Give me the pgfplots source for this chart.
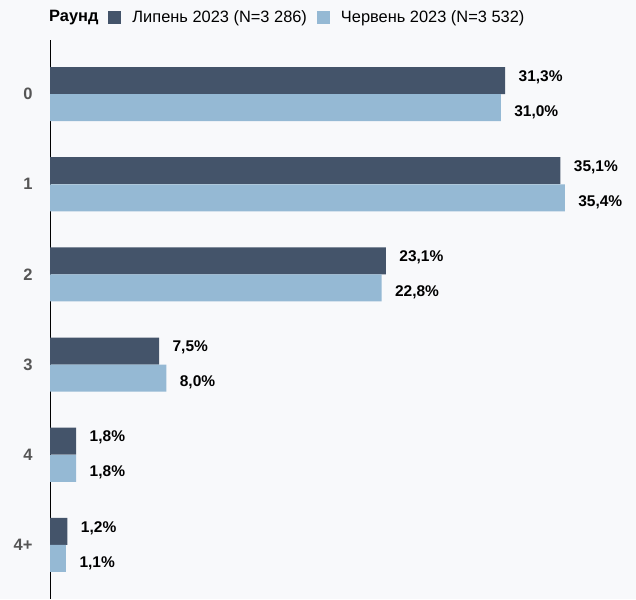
\documentclass[border=0pt]{standalone}
\usepackage{fontspec}
\setmainfont{Liberation Sans}
\usepackage{pgfplots}
\pgfplotsset{compat=1.18}
\definecolor{bg}{HTML}{F8F9FB}
\definecolor{darkbar}{HTML}{44546A}
\definecolor{lightbar}{HTML}{95B9D4}
\definecolor{tickgrey}{HTML}{555555}
\begin{document}
\begin{tikzpicture}[x=1pt,y=1pt]
\fill[bg] (0,0) rectangle (636,599);
\begin{axis}[
  at={(50pt,0pt)}, anchor=south west,
  scale only axis, width=586pt, height=559pt,
  xbar, bar width=27pt, bar shift=0pt,
  xmin=0, xmax=40.3,
  ymin=-0.6, ymax=5.6, y dir=reverse,
  hide x axis,
  axis y line*=left,
  y axis line style={black, line width=1pt},
  ytick={0,1,2,3,4,5}, yticklabels={0,1,2,3,4,4+},
  major tick length=0pt,
  yticklabel style={font=\bfseries\fontsize{16.5}{16.5}\selectfont, text=tickgrey, xshift=-14pt},
  point meta=x,
  /pgf/number format/fixed, /pgf/number format/fixed zerofill, /pgf/number format/precision=1,
  /pgf/number format/use comma, /pgf/number format/assume math mode=true,
  nodes near coords={\pgfmathprintnumber{\pgfplotspointmeta}\%},
  nodes near coords style={font=\bfseries\fontsize{15.5}{15.5}\selectfont, text=black, anchor=west, xshift=10pt},
  legend columns=-1,
  legend style={draw=none, fill=none, at={(0,1)}, anchor=south west, xshift=-15pt, yshift=12pt,
    font=\fontsize{16.4}{16.4}\selectfont,
    /tikz/every even column/.append style={column sep=8pt},
    /tikz/every odd column/.append style={column sep=9pt}},
  legend image code/.code={\fill[#1] (0pt,-6.5pt) rectangle (13pt,6.5pt);},
  clip=false,
]
\addlegendimage{empty legend}
\addlegendentry{\textbf{Раунд}}
\addplot[fill=darkbar, draw=none, nodes near coords style={yshift=3.5pt}] coordinates {
(31.3,-0.15) (35.1,0.85) (23.1,1.85) (7.5,2.85) (1.8,3.85) (1.2,4.85)};
\addlegendentry{Липень 2023 (N=3 286)}
\addplot[fill=lightbar, draw=none, nodes near coords style={yshift=-4.5pt}] coordinates {
(31.0,0.15) (35.4,1.15) (22.8,2.15) (8.0,3.15) (1.8,4.15) (1.1,5.15)};
\addlegendentry{Червень 2023 (N=3 532)}
\end{axis}
\end{tikzpicture}
\end{document}
